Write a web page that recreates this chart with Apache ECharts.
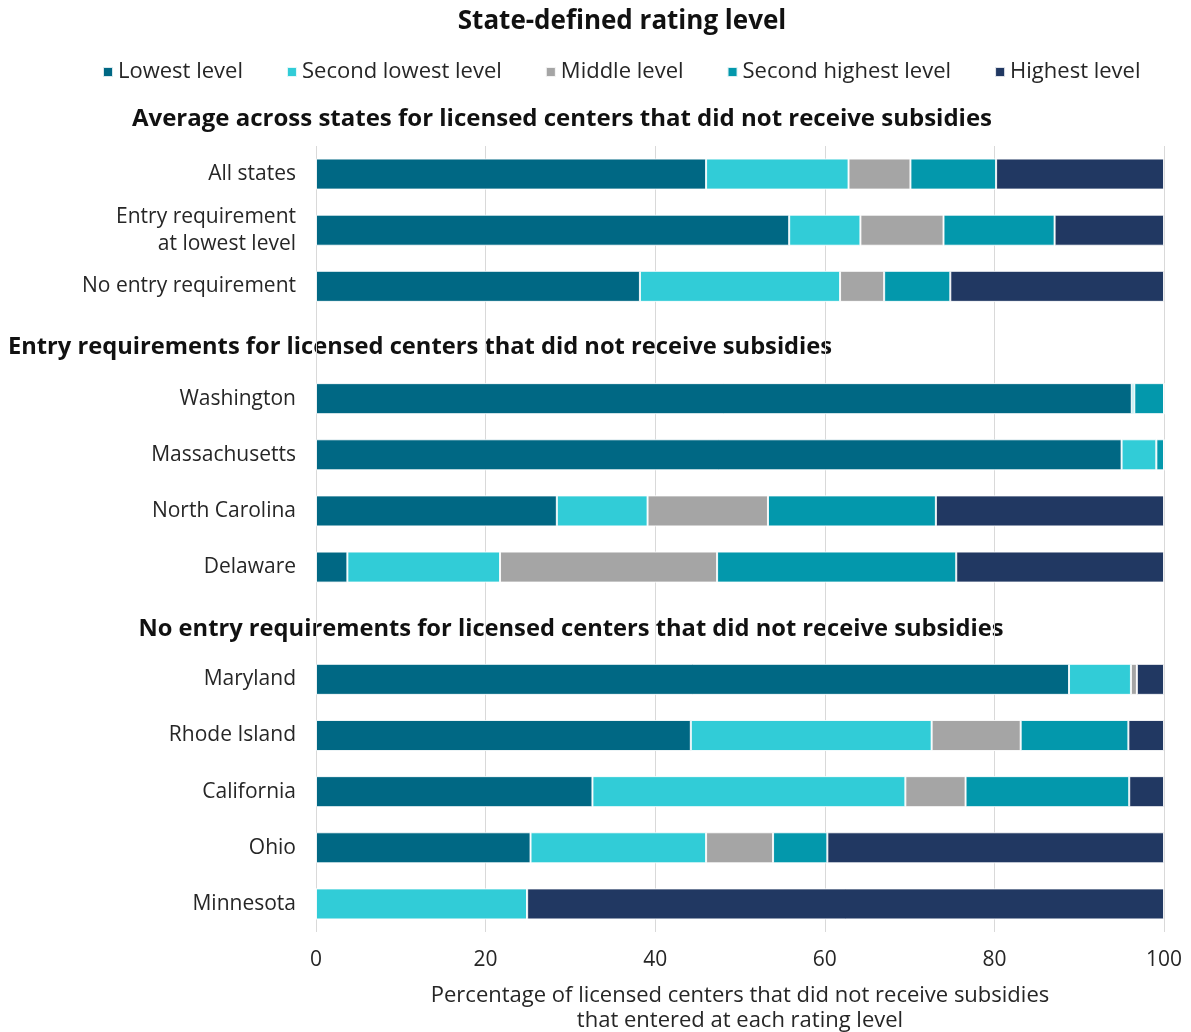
<!DOCTYPE html>
<html>
<head>
<meta charset="utf-8">
<script src="https://cdn.jsdelivr.net/npm/echarts@6/dist/echarts.min.js"></script>
<style>
html,body{margin:0;padding:0;background:#fff;}
#chart{width:1191px;height:1032px;}
</style>
</head>
<body>
<div id="chart"></div>
<script>
const categories = [
  "All states", "Entry requirement\nat lowest level", "No entry requirement", "",
  "Washington", "Massachusetts", "North Carolina", "Delaware", "",
  "Maryland", "Rhode Island", "California", "Ohio", "Minnesota"
];
const seriesNames = ["Lowest level", "Second lowest level", "Middle level", "Second highest level", "Highest level"];
const lowest        = [46.0, 55.8, 38.2, null, 96.2, 95.0, 28.4, 3.7,  null, 88.8, 44.2, 32.6, 25.3, 0];
const secondLowest  = [16.8, 8.4, 23.6,  null, 0.3,  4.1,  10.7, 18.0, null, 7.3,  28.4, 36.9, 20.7, 24.9];
const middle        = [7.3,  9.8,  5.2,  null, 0,    0,    14.2, 25.6, null, 0.7,  10.5, 7.1,  7.9,  0];
const secondHighest = [10.1, 13.1, 7.8,  null, 3.5,  0.9,  19.8, 28.2, null, 0,    12.7, 19.3, 6.4,  0];
const highest       = [19.8, 12.9, 25.2, null, 0,    0,    26.9, 24.5, null, 3.2,  4.2,  4.1,  39.7, 75.1];
const xTicks = [0, 20, 40, 60, 80, 100];
const headings = [
  "Average across states for licensed centers that did not receive subsidies",
  "Entry requirements for licensed centers that did not receive subsidies",
  "No entry requirements for licensed centers that did not receive subsidies"
];
const titleText = "State-defined rating level";
const xAxisName = "Percentage of licensed centers that did not receive subsidies\nthat entered at each rating level";

const colors = ["#006884", "#31CCD7", "#A5A5A5", "#0398AC", "#213862"];
const dataSets = [lowest, secondLowest, middle, secondHighest, highest];
const FONT = "'Open Sans', 'Liberation Sans', sans-serif";
const TXT = '#262626';

const chart = echarts.init(document.getElementById('chart'), null, {renderer: 'canvas'});
chart.setOption({
  animation: false,
  backgroundColor: '#fff',
  textStyle: {fontFamily: FONT},
  graphic: [
    {type: 'text', x: 622, y: 22, style: {text: titleText, font: "bold 26px " + FONT, fill: '#111', align: 'center', verticalAlign: 'middle'}},
    {type: 'text', x: 562, y: 119, style: {text: headings[0], font: "bold 24px " + FONT, fill: '#111', align: 'center', verticalAlign: 'middle'}},
    {type: 'text', x: 8, y: 347, style: {text: headings[1], font: "bold 23.7px " + FONT, fill: '#111', align: 'left', verticalAlign: 'middle'}},
    {type: 'text', x: 571, y: 629, style: {text: headings[2], font: "bold 23.7px " + FONT, fill: '#111', align: 'center', verticalAlign: 'middle'}}
  ],
  legend: {
    left: 97, top: 56,
    icon: 'rect', itemWidth: 10, itemHeight: 10, itemGap: 43,
    textStyle: {fontSize: 22, color: TXT, fontFamily: FONT},
    data: seriesNames
  },
  grid: {left: 316, right: 27, top: 146, bottom: 100, containLabel: false, outerBoundsMode: 'none'},
  xAxis: {
    type: 'value', min: 0, max: 100, interval: 20,
    axisLine: {show: false}, axisTick: {show: false},
    splitLine: {show: true, lineStyle: {color: '#d9d9d9', width: 1}},
    axisLabel: {fontSize: 21, color: TXT, margin: 18, fontFamily: FONT,
      formatter: v => xTicks.includes(v) ? String(v) : ''},
    name: xAxisName, nameLocation: 'middle', nameGap: 51,
    nameTextStyle: {fontSize: 22, color: TXT, lineHeight: 25, fontFamily: FONT}
  },
  yAxis: {
    type: 'category', inverse: true, data: categories,
    axisLine: {show: false}, axisTick: {show: false},
    axisLabel: {fontSize: 21, color: TXT, margin: 20, lineHeight: 27, fontFamily: FONT, align: 'right'}
  },
  series: dataSets.map((d, i) => ({
    name: seriesNames[i], type: 'bar', stack: 'total', data: d,
    barWidth: 31,
    itemStyle: {color: colors[i], borderColor: 'rgba(255,255,255,0.85)', borderWidth: 1}
  }))
});
</script>
</body>
</html>
